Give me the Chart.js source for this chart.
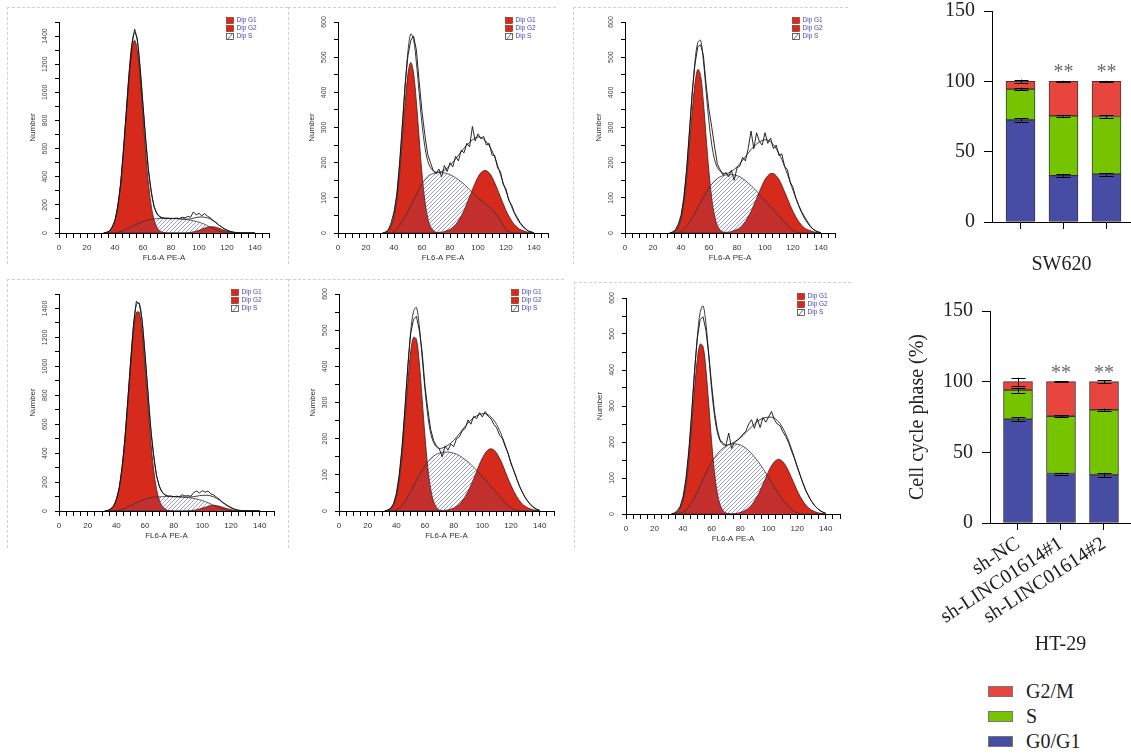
<!DOCTYPE html>
<html><head><meta charset="utf-8">
<script src="https://cdn.jsdelivr.net/npm/chart.js@4.4.0/dist/chart.umd.min.js"></script>
<style>
html,body{margin:0;padding:0;background:#fff;width:1131px;height:754px;overflow:hidden;position:relative;}
.panel{position:absolute;border-top:1px dashed #d0d0d0;border-left:1px dashed #d0d0d0;}
canvas{position:absolute;}
.legend{position:absolute;left:988px;top:679px;font:20px "Liberation Serif";color:#222;}
.legend .row{height:25px;display:flex;align-items:center;}
.legend .box{display:inline-block;width:23px;height:9px;margin-right:13px;border:1px solid #777;}
</style></head><body>
<div class="panel" style="left:7px;top:7px;width:280px;height:256px"></div>
<div class="panel" style="left:288px;top:7px;width:267px;height:256px"></div>
<div class="panel" style="left:573px;top:7px;width:274px;height:256px"></div>
<div class="panel" style="left:7px;top:279px;width:280px;height:268px"></div>
<div class="panel" style="left:288px;top:279px;width:275px;height:268px"></div>
<div class="panel" style="left:574px;top:282px;width:276px;height:265px"></div>
<div class="legend">
 <div class="row"><span class="box" style="background:#e8453f"></span>G2/M</div>
 <div class="row"><span class="box" style="background:#76c300"></span>S</div>
 <div class="row"><span class="box" style="background:#474ca5"></span>G0/G1</div>
</div>
<script>
// ---------- Flow cytometry histograms (DNA content, FL6-A PE-A) ----------
const xs = [32,34,36,38,40,42,44,46,48,50,52,54,56,58,60,62,64,66,68,70,72,74,76,78,80,82,84,86,88,90,92,94,96,98,100,102,104,106,108,110,112,114,116,118,120,122,124,126,128,130,132,134,136,138,140];
const histXTicks = [0,5,10,15,20,25,30,35,40,45,50,55,60,65,70,75,80,85,90,95,100,105,110,115,120,125,130,135,140,145,150];
const histXLabels = [0,20,40,60,80,100,120,140];
const histYLabels1500 = [0,200,400,600,800,1000,1200,1400];
const histYLabels600 = [0,100,200,300,400,500,600];

// Panel 1: SW620 sh-NC
const p1G1 = [2,5,15,39,90,185,342,563,831,1097,1296,1370,1296,1097,831,563,342,185,90,39,15,5,2,0,0,0,0,0,0,0,0,0,0,0,0,0,0,0,0,0,0,0,0,0,0,0,0,0,0,0,0,0,0,0,0];
const p1S = [0,0,0,1,2,5,10,17,26,36,46,56,65,74,81,88,93,97,100,102,103,104,104,104,104,103,102,101,99,97,94,91,87,82,77,70,62,52,42,32,23,15,9,5,2,1,0,0,0,0,0,0,0,0,0];
const p1G2 = [0,0,0,0,0,0,0,0,0,0,0,0,0,0,0,0,0,0,0,0,0,0,0,0,0,0,0,0,0,0,2,4,8,13,19,27,35,41,44,44,41,35,27,19,13,8,4,2,1,0,0,0,0,0,0];
const p1Fit = [2,5,15,40,92,190,352,580,857,1133,1342,1426,1361,1171,912,651,435,282,190,141,118,109,106,104,104,103,102,101,100,99,99,100,105,110,113,114,112,108,100,88,74,58,43,30,20,12,6,3,1,0,0,0,0,0,0];
const p1Raw = [0,3,12,45,88,196,345,590,850,1120,1330,1450,1380,1160,905,660,440,290,180,135,112,108,102,105,100,104,106,103,112,108,118,112,150,128,140,122,138,120,108,90,76,57,45,30,20,12,8,4,3,1,2,0,1,0,0];

// Panel 2: SW620 sh-LINC01614#1
const p2G1 = [0,2,7,19,45,93,168,268,372,454,485,454,372,268,168,93,45,19,7,2,0,0,0,0,0,0,0,0,0,0,0,0,0,0,0,0,0,0,0,0,0,0,0,0,0,0,0,0,0,0,0,0,0,0,0];
const p2S = [0,0,0,0,5,12,22,34,47,62,78,94,110,126,140,151,160,166,169,171,172,172,171,169,166,162,157,152,146,139,131,123,116,108,100,93,86,80,74,67,58,47,35,22,10,4,1,0,0,0,0,0,0,0,0];
const p2G2 = [0,0,0,0,0,0,0,0,0,0,0,0,0,0,0,0,0,0,0,1,2,2,4,7,10,16,24,35,48,64,83,103,123,142,159,171,177,177,171,159,142,123,103,83,64,48,35,24,16,10,7,4,2,1,0];
const p2Fit = [0,2,8,22,52,106,192,303,420,518,566,550,484,396,310,246,206,186,177,173,173,175,179,185,192,201,211,221,231,241,250,258,265,270,273,272,267,259,248,234,215,192,167,142,119,96,75,56,40,28,18,11,6,3,1];
const p2Raw = [0,3,10,30,60,110,200,310,425,505,548,560,520,430,345,280,225,200,178,168,182,160,192,175,200,188,218,205,235,228,255,245,303,262,282,268,275,250,255,222,220,185,175,138,125,92,80,58,45,30,20,12,5,3,1];

// Panel 3: SW620 sh-LINC01614#2
const p3G1 = [0,2,6,17,40,85,155,248,345,425,465,448,372,270,172,97,48,21,8,3,0,0,0,0,0,0,0,0,0,0,0,0,0,0,0,0,0,0,0,0,0,0,0,0,0,0,0,0,0,0,0,0,0,0,0];
const p3S = [0,0,0,0,4,10,19,30,43,57,72,87,102,116,128,139,148,155,160,163,165,166,166,165,163,160,155,149,142,135,127,119,110,101,92,83,74,66,58,49,40,31,22,14,7,3,1,0,0,0,0,0,0,0,0];
const p3G2 = [0,0,0,0,0,0,0,0,0,0,0,0,0,0,0,0,0,0,0,1,2,2,4,7,10,15,23,33,46,61,79,98,117,136,152,163,169,169,163,152,136,117,98,79,61,46,33,23,15,10,7,4,2,1,0];
const p3Fit = [0,2,7,19,45,97,176,281,392,488,542,548,490,400,315,250,208,186,175,170,169,171,175,181,188,197,207,217,227,237,246,253,259,263,265,264,259,251,240,226,209,189,167,144,121,99,78,59,43,30,20,12,7,3,1];
const p3Raw = [0,3,9,25,50,100,180,290,400,480,530,535,505,420,350,300,245,195,180,165,172,160,178,150,185,190,215,205,240,290,240,285,260,250,285,255,270,240,250,220,225,190,180,145,130,100,80,62,48,35,22,12,6,3,1];

// Panel 4: HT-29 sh-NC
const p4G1 = [1,4,13,33,75,154,288,486,735,1004,1237,1372,1372,1237,1004,735,486,288,154,75,33,13,4,1,0,0,0,0,0,0,0,0,0,0,0,0,0,0,0,0,0,0,0,0,0,0,0,0,0,0,0,0,0,0,0];
const p4S = [0,0,0,1,3,6,11,18,27,37,47,57,66,75,82,88,92,95,97,98,99,100,100,100,100,99,98,97,95,93,90,87,83,78,72,65,57,48,39,30,22,15,9,5,3,1,0,0,0,0,0,0,0,0,0];
const p4G2 = [0,0,0,0,0,0,0,0,0,0,0,0,0,0,0,0,0,0,0,0,0,0,0,0,0,0,0,0,0,0,3,5,9,14,20,26,33,37,39,37,33,26,20,14,9,5,3,1,1,0,0,0,0,0,0];
const p4Fit = [1,4,13,34,78,160,299,504,762,1041,1284,1429,1438,1312,1086,823,578,383,251,173,132,113,104,101,100,99,98,97,96,96,97,99,102,106,108,109,108,104,97,87,74,60,45,32,21,13,7,3,1,0,0,0,0,0,0];
const p4Raw = [0,2,15,30,82,158,305,498,770,1030,1290,1450,1430,1320,1080,830,570,390,245,170,128,110,102,104,98,102,100,112,104,106,102,128,138,125,140,130,138,118,110,95,80,62,48,35,25,15,8,5,2,1,2,1,0,1,0];

// Panel 5: HT-29 sh-LINC01614#1
const p5G1 = [0,2,6,17,40,85,155,250,355,440,480,475,410,310,205,118,60,26,10,3,1,0,0,0,0,0,0,0,0,0,0,0,0,0,0,0,0,0,0,0,0,0,0,0,0,0,0,0,0,0,0,0,0,0,0];
const p5S = [0,0,0,0,3,8,16,27,40,54,69,84,99,113,125,136,145,152,157,160,162,163,163,162,160,157,153,148,142,136,129,121,113,104,95,86,77,68,59,50,41,32,23,15,9,4,2,1,0,0,0,0,0,0,0];
const p5G2 = [0,0,0,0,0,0,0,0,0,0,0,0,0,0,0,0,0,0,0,0,1,2,3,5,8,13,19,28,40,54,71,89,109,129,146,160,169,172,169,160,146,129,109,89,71,54,40,28,19,13,8,5,3,2,1];
const p5Fit = [0,2,6,18,44,94,172,278,396,496,552,563,512,426,335,262,214,189,177,173,174,177,182,188,195,204,214,224,234,243,251,258,263,267,269,269,266,260,251,239,223,204,182,158,134,110,88,68,51,37,26,17,10,5,2];
const p5Raw = [0,3,8,20,48,100,178,285,400,490,530,538,500,440,345,280,225,195,180,172,150,180,168,185,178,200,205,222,228,252,240,262,255,272,260,275,262,255,240,230,210,200,178,160,130,112,90,68,52,36,25,15,9,4,2];

// Panel 6: HT-29 sh-LINC01614#2
const p6G1 = [0,2,6,16,38,80,148,242,345,430,472,465,402,305,202,116,58,25,9,3,1,0,0,0,0,0,0,0,0,0,0,0,0,0,0,0,0,0,0,0,0,0,0,0,0,0,0,0,0,0,0,0,0,0,0];
const p6S = [0,0,0,2,5,11,20,32,46,62,79,96,113,129,143,156,167,176,183,188,192,194,195,194,192,188,183,176,168,159,149,138,126,114,101,88,75,62,50,39,29,20,13,7,3,1,0,0,0,0,0,0,0,0,0];
const p6G2 = [0,0,0,0,0,0,0,0,0,0,0,0,0,0,0,0,0,0,0,0,0,0,1,2,4,7,11,17,25,36,49,65,83,101,119,134,145,151,151,145,134,119,101,83,65,49,36,25,17,11,7,4,2,1,0];
const p6Fit = [0,2,6,18,43,91,168,274,391,492,560,578,530,440,347,274,227,203,193,191,193,196,200,205,211,218,226,234,242,250,257,262,266,268,269,269,266,260,251,238,222,203,181,157,133,109,87,67,50,36,25,16,10,5,2];
const p6Raw = [0,3,10,22,48,98,175,280,395,488,540,548,510,445,360,285,235,205,198,190,225,182,198,205,212,222,230,250,262,238,265,240,268,255,270,285,262,250,245,228,215,198,175,155,130,108,85,65,50,35,24,16,9,5,2];

// ---------- Stacked bar charts ----------
const categories = ['sh-NC', 'sh-LINC01614#1', 'sh-LINC01614#2'];
const barYTicks = [0, 50, 100, 150];
const sw620G1 = [72.5, 33, 34];
const sw620S  = [22, 42.5, 41];
const sw620G2 = [5.5, 24.5, 25];
const sw620G1Err = [1.2, 0.8, 1.0];
const sw620SErr  = [1.0, 0.5, 1.2];
const sw620G2Err = [1.2, 0.4, 0.4];
const sw620Stars = ['', '**', '**'];
const ht29G1 = [73.5, 35, 34];
const ht29S  = [20.5, 40.5, 46];
const ht29G2 = [6, 24.5, 20];
const ht29G1Err = [1.5, 0.7, 1.5];
const ht29SErr  = [1.8, 0.8, 1.0];
const ht29G2Err = [2.8, 0.4, 1.0];
const ht29Stars = ['', '**', '**'];

const RED = '#d52a1c';
const SANS = '"Liberation Sans", Arial, sans-serif';
const SERIF = '"Liberation Serif", "Times New Roman", serif';

function makeHatch(){
  const n = 4;
  const c = document.createElement('canvas'); c.width = n; c.height = n;
  const g = c.getContext('2d');
  g.strokeStyle = 'rgba(80,80,150,0.8)'; g.lineWidth = 0.7;
  g.beginPath();
  g.moveTo(0,n); g.lineTo(n,0);
  g.moveTo(-1,1); g.lineTo(1,-1);
  g.moveTo(n-1,n+1); g.lineTo(n+1,n-1);
  g.stroke();
  return g.createPattern(c, 'repeat');
}
const HATCH = makeHatch();

function pts(arr){ return arr.map((v,i)=>({x: xs[i], y: v})); }

const yRotPlugin = {
  id: 'yRot',
  afterDraw(chart, args, opts){
    const s = chart.scales.y, ctx = chart.ctx;
    ctx.save();
    ctx.font = '7px ' + SANS; ctx.fillStyle = '#444';
    ctx.textAlign = 'center'; ctx.textBaseline = 'middle';
    for (const v of opts.labels){
      const py = s.getPixelForValue(v);
      ctx.save(); ctx.translate(s.right - 14, py); ctx.rotate(-Math.PI/2);
      ctx.fillText(String(v), 0, 0); ctx.restore();
    }
    ctx.restore();
  }
};
const histLegendPlugin = {
  id: 'histLegend',
  afterDraw(chart){
    const {right, top} = chart.chartArea, ctx = chart.ctx;
    const items = chart.data.datasets.filter(d => d.label.startsWith('Dip'));
    ctx.save();
    ctx.font = '6.5px ' + SANS; ctx.textBaseline = 'middle'; ctx.textAlign = 'left';
    items.forEach((d,k) => {
      const bx = Math.round(right - 43) + 0.5, by = Math.round(top - 5 + k*8) + 0.5;
      if (d.label === 'Dip S'){
        ctx.fillStyle = '#fff'; ctx.fillRect(bx, by, 7, 6);
        ctx.strokeStyle = '#444'; ctx.lineWidth = 0.8; ctx.strokeRect(bx, by, 7, 6);
        ctx.beginPath(); ctx.moveTo(bx+1, by+6); ctx.lineTo(bx+6, by); ctx.stroke();
      } else {
        ctx.fillStyle = RED; ctx.fillRect(bx, by, 7, 6);
        ctx.strokeStyle = '#7a1a12'; ctx.lineWidth = 0.6; ctx.strokeRect(bx, by, 7, 6);
      }
      ctx.fillStyle = '#4545c8';
      ctx.fillText(d.label, bx + 10, by + 3);
    });
    ctx.restore();
  }
};

function histogram(geom, ymax, ystep, ylabels, d){
  const [axisX, x150, topY, baseY] = geom;
  const cv = document.createElement('canvas');
  const W = Math.round(x150 - axisX + 45 + 8), H = Math.round(baseY - topY + 10 + 34);
  cv.width = W; cv.height = H;
  cv.style.left = (axisX - 45) + 'px'; cv.style.top = (topY - 10) + 'px';
  cv.style.width = W + 'px'; cv.style.height = H + 'px';
  document.body.appendChild(cv);
  new Chart(cv, {
    type: 'line',
    data: { datasets: [
      {label:'Dip G1', data: pts(d.g1), fill:'origin', backgroundColor: RED, borderColor:'#4a1810', borderWidth:0.8, tension:0.35, order:5},
      {label:'Dip G2', data: pts(d.g2), fill:'origin', backgroundColor: RED, borderColor:'#4a1810', borderWidth:0.8, tension:0.35, order:4},
      {label:'Dip S', data: pts(d.s), fill:'origin', backgroundColor: HATCH, borderColor:'#333', borderWidth:0.8, tension:0.35, order:3},
      {label:'Fit', data: pts(d.fit), fill:false, borderColor:'#3a3a3a', borderWidth:1, tension:0.35, order:2},
      {label:'Raw', data: pts(d.raw), fill:false, borderColor:'#111', borderWidth:0.9, tension:0, order:1}
    ]},
    options: {
      responsive:false, animation:false, events:[],
      layout:{padding:{left:0, top:10, right:8, bottom:0}},
      elements:{point:{radius:0}},
      plugins:{legend:{display:false}, tooltip:{enabled:false}, yRot:{labels: ylabels}},
      scales:{
        x:{type:'linear', min:0, max:150,
           afterFit: s => { s.height = 34; },
           afterBuildTicks: s => { s.ticks = histXTicks.map(v => ({value:v})); },
           ticks:{autoSkip:false, maxRotation:0, minRotation:0, padding:5, font:{family:SANS, size:8}, color:'#333',
                  callback: v => histXLabels.includes(v) ? String(v) : ''},
           grid:{drawOnChartArea:false, drawTicks:true, tickLength:5, color:'#000', lineWidth:1},
           border:{display:true, color:'#000', width:1},
           title:{display:true, text:'FL6-A PE-A', font:{family:SANS, size:8}, color:'#333', padding:{top:0, bottom:4}}},
        y:{min:0, max:ymax,
           afterFit: s => { s.width = 45; },
           ticks:{stepSize:ystep, display:false},
           grid:{drawOnChartArea:false, drawTicks:true, tickLength:4, color:'#000', lineWidth:1},
           border:{display:true, color:'#000', width:1},
           title:{display:true, text:'Number', font:{family:SANS, size:8}, color:'#333', padding:{top:14, bottom:0}}}
      }
    },
    plugins:[yRotPlugin, histLegendPlugin]
  });
}

histogram([59, 269, 22, 233], 1500, 100, histYLabels1500, {g1:p1G1, s:p1S, g2:p1G2, fit:p1Fit, raw:p1Raw});
histogram([338, 548, 22, 233], 600, 50, histYLabels600, {g1:p2G1, s:p2S, g2:p2G2, fit:p2Fit, raw:p2Raw});
histogram([625, 835, 22, 233], 600, 50, histYLabels600, {g1:p3G1, s:p3S, g2:p3G2, fit:p3Fit, raw:p3Raw});
histogram([59, 274, 294, 511], 1500, 100, histYLabels1500, {g1:p4G1, s:p4S, g2:p4G2, fit:p4Fit, raw:p4Raw});
histogram([339, 554, 294, 511], 600, 50, histYLabels600, {g1:p5G1, s:p5S, g2:p5G2, fit:p5Fit, raw:p5Raw});
histogram([626, 840, 298, 514], 600, 50, histYLabels600, {g1:p6G1, s:p6S, g2:p6G2, fit:p6Fit, raw:p6Raw});

// ---------- bar charts ----------
const errPlugin = {
  id: 'errBars',
  afterDatasetsDraw(chart, args, opts){
    const ctx = chart.ctx, xS = chart.scales.x, yS = chart.scales.y;
    const cum = categories.map(() => 0);
    ctx.save();
    ctx.strokeStyle = '#000'; ctx.lineWidth = 1;
    chart.data.datasets.forEach((ds, di) => {
      ds.data.forEach((p, i) => {
        cum[i] += p.y;
        const e = opts.errors[di][i];
        const cx = Math.round(xS.getPixelForValue(p.x)) + 0.5;
        const yt = yS.getPixelForValue(cum[i] + e), yb = yS.getPixelForValue(cum[i] - e);
        ctx.beginPath();
        ctx.moveTo(cx, yt); ctx.lineTo(cx, yb);
        ctx.moveTo(cx - 7, Math.round(yt)+0.5); ctx.lineTo(cx + 7, Math.round(yt)+0.5);
        ctx.moveTo(cx - 7, Math.round(yb)+0.5); ctx.lineTo(cx + 7, Math.round(yb)+0.5);
        ctx.stroke();
      });
    });
    ctx.font = '20px ' + SERIF; ctx.fillStyle = '#6a6a6a'; ctx.textAlign = 'center'; ctx.textBaseline = 'alphabetic';
    opts.stars.forEach((t, i) => {
      if (!t) return;
      ctx.fillText(t, xS.getPixelForValue(i), yS.getPixelForValue(cum[i]) - 3);
    });
    ctx.restore();
  }
};

function barChart(cfg){
  const cv = document.createElement('canvas');
  cv.width = cfg.w; cv.height = cfg.h;
  cv.style.left = cfg.left + 'px'; cv.style.top = cfg.top + 'px';
  cv.style.width = cfg.w + 'px'; cv.style.height = cfg.h + 'px';
  document.body.appendChild(cv);
  const mk = (label, arr, color) => ({label, data: arr.map((v,i)=>({x:i, y:v})), backgroundColor: color,
      borderColor:'rgba(35,35,35,0.9)', borderWidth:1, borderSkipped:false, barThickness:29});
  new Chart(cv, {
    type: 'bar',
    data: { datasets: [ mk('G0/G1', cfg.g1, '#474ca5'), mk('S', cfg.s, '#76c300'), mk('G2/M', cfg.g2, '#e8453f') ] },
    options: {
      responsive:false, animation:false, events:[],
      layout:{padding:{left:0, top:cfg.padTop, right:10, bottom:0}},
      plugins:{legend:{display:false}, tooltip:{enabled:false}, errBars:{errors: cfg.errs, stars: cfg.stars}},
      scales:{
        x:{type:'linear', min:cfg.xmin, max:cfg.xmax, stacked:true, offset:false,
           afterFit: s => { s.height = cfg.xh; },
           afterBuildTicks: s => { s.ticks = categories.map((c,i) => ({value:i})); },
           ticks:{display:cfg.showLabels, autoSkip:false, minRotation:33, maxRotation:33, padding:2,
                  font:{family:SERIF, size:20}, color:'#222', callback: v => categories[v]},
           grid:{offset:false, drawOnChartArea:false, drawTicks:true, tickLength:7, color:'#000', lineWidth:1},
           border:{display:true, color:'#000', width:1},
           title:{display:true, text:cfg.title, font:{family:SERIF, size:20}, color:'#222', padding:{top:0, bottom:13}}},
        y:{min:0, max:150, stacked:true,
           afterFit: s => { s.width = cfg.yw; },
           afterBuildTicks: s => { s.ticks = barYTicks.map(v => ({value:v})); },
           ticks:{padding:9, font:{family:SERIF, size:20}, color:'#222'},
           grid:{drawOnChartArea:false, drawTicks:true, tickLength:8, color:'#000', lineWidth:1},
           border:{display:true, color:'#000', width:1},
           title:{display:!!cfg.ytitle, text:cfg.ytitle || '', font:{family:SERIF, size:20}, color:'#222', padding:{top:11, bottom:0}}}
      }
    },
    plugins:[errPlugin]
  });
}

barChart({left:920, top:-10, w:221, h:300, padTop:18, xh:68, yw:72, xmin:-0.663, xmax:2.570,
  g1:sw620G1, s:sw620S, g2:sw620G2, errs:[sw620G1Err, sw620SErr, sw620G2Err], stars:sw620Stars,
  showLabels:false, title:'SW620', ytitle:null});
barChart({left:895, top:290, w:246, h:380, padTop:19, xh:147, yw:95, xmin:-0.651, xmax:2.628,
  g1:ht29G1, s:ht29S, g2:ht29G2, errs:[ht29G1Err, ht29SErr, ht29G2Err], stars:ht29Stars,
  showLabels:true, title:'HT-29', ytitle:'Cell cycle phase (%)'});
</script>
</body></html>
